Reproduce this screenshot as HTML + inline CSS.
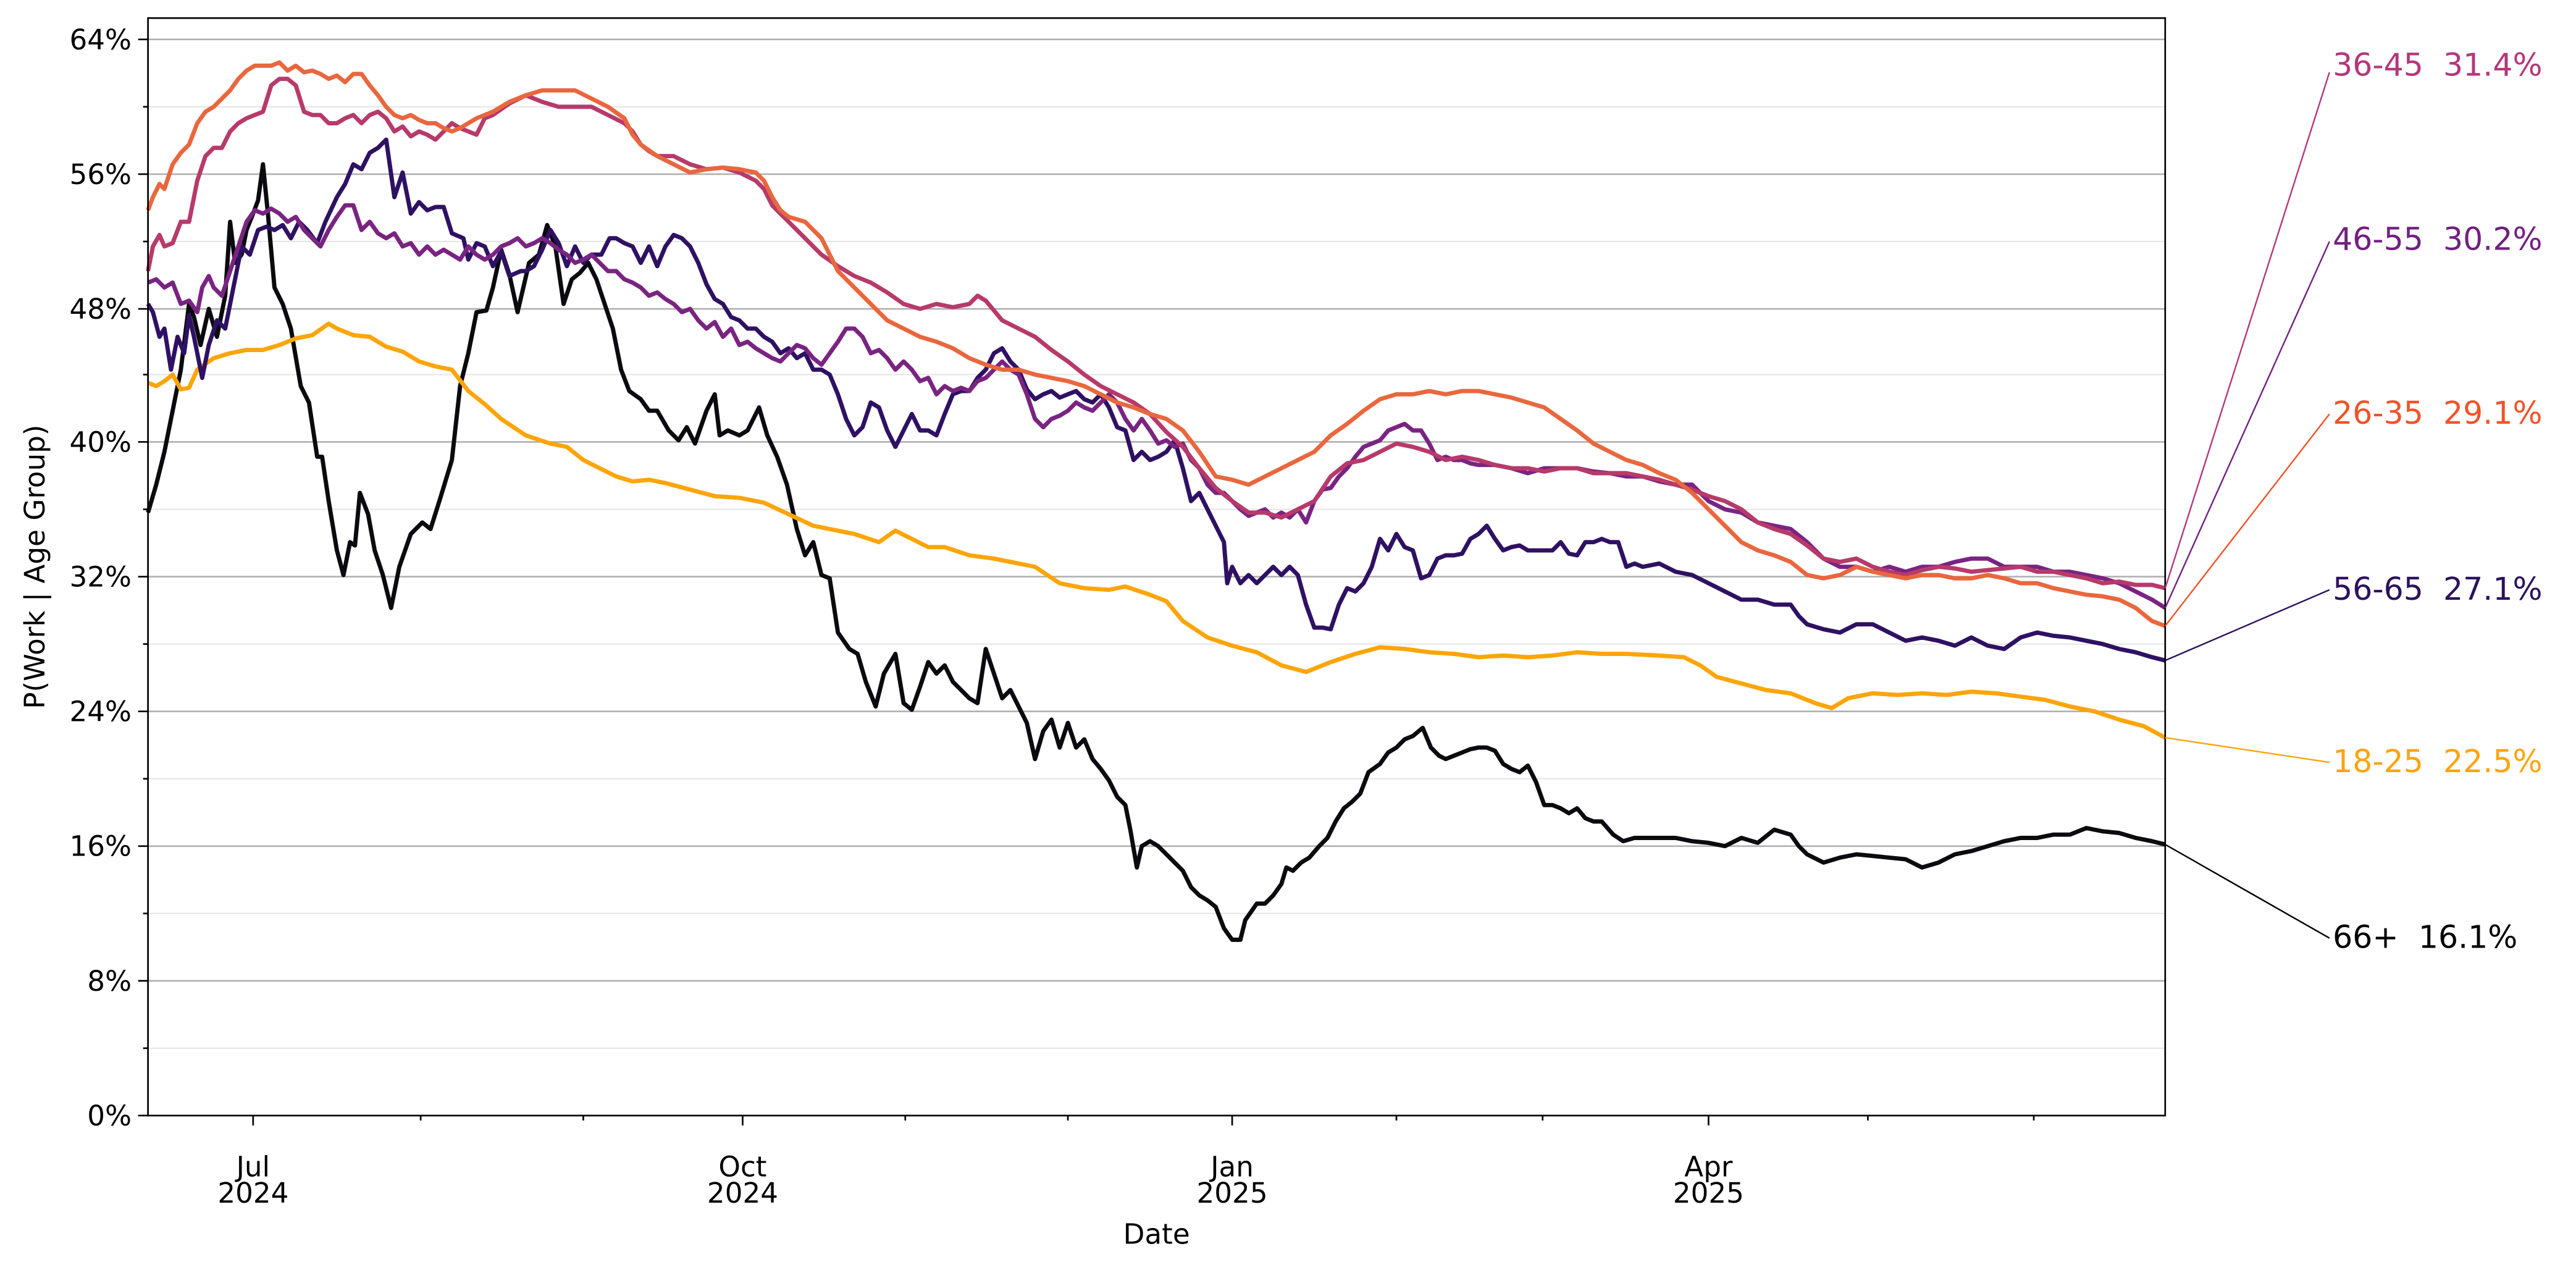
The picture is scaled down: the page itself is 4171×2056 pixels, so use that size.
<!DOCTYPE html>
<html><head><meta charset="utf-8"><style>html,body{margin:0;padding:0;background:#fff}svg{display:block}</style></head><body>
<svg width="4171" height="2056" viewBox="0 0 1568 773" xmlns="http://www.w3.org/2000/svg" font-family="DejaVu Sans, Liberation Sans, sans-serif">
<rect width="1568" height="773" fill="#fff"/>
<g stroke="#e6e6e6" stroke-width="0.8">
<line x1="90" x2="1318" y1="638" y2="638"/><line x1="90" x2="1318" y1="556" y2="556"/><line x1="90" x2="1318" y1="474" y2="474"/><line x1="90" x2="1318" y1="392" y2="392"/><line x1="90" x2="1318" y1="310" y2="310"/><line x1="90" x2="1318" y1="228" y2="228"/><line x1="90" x2="1318" y1="147" y2="147"/><line x1="90" x2="1318" y1="65" y2="65"/>
</g>
<g stroke="#b0b0b0" stroke-width="1">
<line x1="90" x2="1318" y1="597" y2="597"/><line x1="90" x2="1318" y1="515" y2="515"/><line x1="90" x2="1318" y1="433" y2="433"/><line x1="90" x2="1318" y1="351" y2="351"/><line x1="90" x2="1318" y1="269" y2="269"/><line x1="90" x2="1318" y1="188" y2="188"/><line x1="90" x2="1318" y1="106" y2="106"/><line x1="90" x2="1318" y1="24" y2="24"/>
</g>
<g fill="none" stroke-width="2.6" stroke-linejoin="round">
<polyline stroke="#0a0a0f" points="90,312 95,295 100,275 105,250 110,225 115,185 118,193 122,210 127,188 132,205 137,180 140,135 143,160 147,155 150,140 154,130 157,122 160,100 163,130 167,175 172,185 177,200 183,235 188,245 193,278 196,278 200,305 205,335 209,350 213,330 216,332 219,300 224,313 228,335 233,350 238,370 243,345 250,325 257,318 262,322 268,303 275,280 280,235 285,215 290,190 296,189 300,175 305,152 310,167 315,190 322,160 328,155 333,137 338,150 343,185 348,170 353,166 358,160 363,170 368,185 373,200 378,225 383,238 390,243 395,250 400,250 407,262 413,268 418,260 423,270 430,250 435,240 438,265 443,262 450,265 455,262 462,248 467,265 473,278 479,295 485,322 490,338 495,330 500,350 505,352 510,385 517,395 522,398 527,415 533,430 538,410 545,398 550,428 555,432 560,418 565,403 570,410 575,405 580,415 585,420 590,425 595,428 600,395 605,410 610,425 615,420 620,430 625,440 630,462 635,445 640,438 645,455 650,440 655,455 660,450 665,462 670,468 675,475 680,485 685,490 688,505 692,528 695,515 700,512 705,515 710,520 715,525 720,530 725,540 730,545 735,548 740,552 745,565 750,572 755,572 758,560 765,550 770,550 775,545 780,538 783,528 787,530 792,525 797,522 803,515 808,510 813,500 818,492 823,488 828,483 833,470 840,465 845,458 850,455 855,450 860,448 866,443 871,455 876,460 880,462 885,460 890,458 895,456 900,455 905,455 910,457 915,465 920,468 925,470 930,466 935,476 940,490 945,490 950,492 955,495 960,492 965,498 970,500 975,500 982,508 988,512 995,510 1000,510 1010,510 1020,510 1030,512 1040,513 1050,515 1060,510 1070,513 1080,505 1090,508 1095,515 1100,520 1110,525 1120,522 1130,520 1140,521 1150,522 1160,523 1170,528 1180,525 1190,520 1200,518 1210,515 1220,512 1230,510 1240,510 1250,508 1260,508 1270,504 1280,506 1290,507 1300,510 1310,512 1318,514"/>
<polyline stroke="#fca50a" points="90,233 95,235 100,232 105,228 110,237 115,236 120,225 130,218 140,215 150,213 160,213 170,210 180,206 190,204 200,197 205,200 215,204 225,205 235,211 245,214 255,220 265,223 275,225 285,238 295,246 305,255 320,265 335,270 345,272 355,280 365,285 375,290 385,293 395,292 405,294 420,298 435,302 450,303 465,306 480,313 495,320 510,323 520,325 535,330 545,323 555,328 565,333 575,333 590,338 605,340 620,343 630,345 645,355 660,358 675,359 685,357 700,362 710,366 720,378 735,388 750,393 765,397 780,405 795,409 810,403 825,398 840,394 855,395 870,397 885,398 900,400 915,399 930,400 945,399 960,397 975,398 990,398 1010,399 1025,400 1035,405 1045,412 1060,416 1075,420 1090,422 1105,428 1115,431 1125,425 1140,422 1155,423 1170,422 1185,423 1200,421 1215,422 1230,424 1245,426 1260,430 1275,433 1290,438 1305,442 1318,449"/>
<polyline stroke="#2f1163" points="90,185 93,190 97,205 100,200 104,225 108,205 112,215 115,192 118,205 123,230 127,210 132,195 137,200 142,175 147,150 152,155 157,140 162,138 167,140 172,137 177,145 182,135 187,140 193,148 198,135 205,120 210,112 215,100 220,103 225,93 230,90 235,85 240,120 245,105 250,130 255,123 260,128 265,126 270,126 275,142 282,145 285,158 290,148 295,150 300,162 305,153 310,168 317,165 320,165 325,162 330,152 335,140 340,148 345,162 350,150 355,160 360,155 366,155 371,145 375,145 380,148 385,150 390,160 395,150 400,162 405,150 410,143 415,145 420,150 425,160 430,173 435,182 440,185 445,193 450,195 455,200 460,200 465,205 470,208 475,215 480,212 485,218 490,215 495,225 500,225 505,228 510,240 515,255 520,265 525,260 530,245 535,248 540,262 545,272 550,262 555,252 560,262 565,262 570,265 575,252 580,240 585,238 590,238 595,230 600,225 605,215 610,212 615,220 620,225 625,237 630,243 635,240 640,238 645,242 650,240 655,238 660,243 665,245 670,240 675,248 680,260 685,262 690,280 695,275 700,280 705,278 710,275 715,268 720,285 725,305 730,300 735,310 740,320 745,330 747,355 750,345 755,355 760,350 765,355 770,350 775,345 780,350 785,345 790,350 795,368 800,382 805,382 810,383 815,368 820,358 825,360 830,355 835,345 840,328 845,335 850,325 855,333 860,335 865,352 870,350 875,340 880,338 885,338 890,337 895,328 900,325 905,320 910,328 915,335 920,333 925,332 930,335 935,335 940,335 945,335 950,330 955,337 960,338 965,330 970,330 975,328 980,330 985,330 990,345 995,343 1000,345 1010,343 1020,348 1030,350 1040,355 1050,360 1060,365 1070,365 1080,368 1090,368 1095,375 1100,380 1110,383 1120,385 1130,380 1140,380 1150,385 1160,390 1170,388 1180,390 1190,393 1200,388 1210,393 1220,395 1230,388 1240,385 1250,387 1260,388 1270,390 1280,392 1290,395 1300,397 1310,400 1318,402"/>
<polyline stroke="#7a2482" points="90,172 95,170 100,175 105,172 110,185 115,183 120,190 123,175 127,168 130,175 135,180 140,165 145,150 150,135 155,128 160,130 165,127 170,130 175,135 180,132 185,140 190,145 195,150 200,140 205,132 210,125 215,125 220,140 225,135 230,142 235,145 240,142 245,150 250,148 255,155 260,150 265,155 270,152 275,155 280,158 285,150 290,155 295,158 300,155 305,150 310,148 315,145 320,150 325,148 330,145 335,148 340,152 345,155 350,160 355,158 360,155 365,160 370,165 375,165 380,170 385,172 390,175 395,180 400,178 405,182 410,185 415,190 420,188 425,195 430,200 435,196 440,205 445,200 450,210 455,208 460,212 465,215 470,218 475,220 480,215 485,210 490,212 495,218 500,222 505,215 510,208 515,200 520,200 525,205 530,215 535,213 540,218 545,225 550,220 555,225 560,232 565,230 570,240 575,235 580,238 585,236 590,238 595,232 600,230 605,225 610,220 615,225 620,228 625,240 630,255 635,260 640,255 645,253 650,250 655,245 660,248 665,250 670,245 675,240 680,245 685,255 690,262 695,255 700,262 705,270 710,268 715,272 720,270 725,280 730,285 735,295 740,300 745,300 750,305 755,310 760,314 765,312 770,310 775,315 780,312 785,315 790,310 795,318 800,305 805,298 810,297 815,290 820,285 825,278 830,272 835,270 840,268 845,262 850,260 855,258 860,262 865,262 870,270 875,280 880,278 885,280 890,280 895,282 900,283 910,283 920,285 930,288 940,285 950,285 960,285 970,287 980,288 990,290 1000,290 1010,293 1020,295 1030,295 1040,305 1050,310 1060,312 1070,318 1080,320 1090,322 1100,330 1110,340 1120,345 1130,345 1140,348 1150,345 1160,348 1170,345 1180,345 1190,342 1200,340 1210,340 1220,345 1230,345 1240,345 1250,348 1260,348 1270,350 1280,352 1290,355 1300,360 1310,365 1318,370"/>
<polyline stroke="#b73a6a" points="90,165 93,150 97,143 100,150 105,148 110,135 115,135 120,110 125,95 130,90 135,90 140,80 145,75 150,72 155,70 160,68 165,52 170,48 175,48 180,52 185,68 190,70 195,70 200,75 205,75 210,72 215,70 220,75 225,70 230,68 235,72 240,80 245,77 250,83 255,80 260,82 265,85 270,80 275,75 280,78 285,80 290,82 295,72 300,70 310,63 320,58 330,62 340,65 350,65 360,65 370,70 380,75 385,80 390,88 395,92 400,95 410,95 420,100 430,103 440,102 450,105 460,110 465,115 470,125 475,130 480,135 490,145 500,155 510,162 520,168 530,172 540,178 550,185 560,188 570,185 580,187 590,185 595,180 600,183 610,195 620,200 630,205 640,213 650,220 660,228 670,235 680,240 690,245 700,252 710,263 720,272 730,285 740,297 750,305 760,312 770,312 780,315 790,310 800,305 810,290 820,282 830,280 840,275 850,270 860,272 870,275 880,280 890,278 900,280 910,283 920,285 930,285 940,287 950,285 960,285 970,288 980,288 990,288 1000,290 1010,292 1020,295 1030,298 1040,302 1050,305 1060,310 1070,318 1080,322 1090,325 1100,332 1110,340 1120,342 1130,340 1140,345 1150,348 1160,350 1170,347 1180,345 1190,346 1200,348 1210,347 1220,346 1230,345 1240,348 1250,348 1260,350 1270,352 1280,355 1290,354 1300,356 1310,356 1318,358"/>
<polyline stroke="#e9673e" points="90,128 93,120 97,112 100,115 105,100 110,93 115,88 120,75 125,68 130,65 135,60 140,55 145,48 150,43 155,40 160,40 165,40 170,38 175,43 180,40 185,44 190,43 195,45 200,48 205,46 210,50 215,45 220,45 225,52 230,58 235,65 240,70 245,72 250,70 255,73 260,75 265,75 270,78 275,80 280,78 285,75 290,72 295,70 300,68 305,65 310,62 320,58 330,55 340,55 350,55 360,60 370,65 380,72 385,82 390,88 400,95 410,100 420,105 430,103 440,102 450,103 460,105 465,110 470,120 475,128 480,132 490,135 500,145 505,155 510,165 520,175 530,185 540,195 550,200 560,205 570,208 580,212 590,218 600,222 610,225 620,225 630,228 640,230 650,232 660,235 670,240 680,245 690,248 700,252 710,255 720,262 730,275 740,290 750,292 760,295 770,290 780,285 790,280 800,275 810,265 820,258 830,250 840,243 850,240 860,240 870,238 880,240 890,238 900,238 910,240 920,242 930,245 940,248 950,255 960,262 970,270 980,275 990,280 1000,283 1010,288 1020,292 1030,300 1040,310 1050,320 1060,330 1070,335 1080,338 1090,342 1100,350 1110,352 1120,350 1130,345 1140,348 1150,350 1160,352 1170,350 1180,350 1190,352 1200,352 1210,350 1220,352 1230,355 1240,355 1250,358 1260,360 1270,362 1280,363 1290,365 1300,370 1310,378 1318,381"/>
</g>
<rect x="90" y="11" width="1228" height="668" fill="none" stroke="#000" stroke-width="1"/>
<g stroke-width="0.9">
<line x1="1318" y1="358" x2="1418" y2="44" stroke="#b5367a"/>
<line x1="1318" y1="370" x2="1418" y2="147" stroke="#721f81"/>
<line x1="1318" y1="381" x2="1418" y2="252" stroke="#f0532a"/>
<line x1="1318" y1="402" x2="1418" y2="359" stroke="#2c115f"/>
<line x1="1318" y1="449" x2="1418" y2="464" stroke="#fca40e"/>
<line x1="1318" y1="514" x2="1418" y2="571" stroke="#000"/>
</g>
<g font-size="19">
<text x="1420" y="46" fill="#b5367a">36-45&#160;&#160;31.4%</text>
<text x="1420" y="152" fill="#721f81">46-55&#160;&#160;30.2%</text>
<text x="1420" y="258" fill="#f0532a">26-35&#160;&#160;29.1%</text>
<text x="1420" y="365" fill="#2c115f">56-65&#160;&#160;27.1%</text>
<text x="1420" y="470" fill="#fca40e">18-25&#160;&#160;22.5%</text>
<text x="1420" y="577" fill="#000">66+&#160;&#160;16.1%</text>
</g>
<g stroke="#000" stroke-width="1">
<line x1="84" x2="90" y1="679" y2="679"/><line x1="84" x2="90" y1="597" y2="597"/><line x1="84" x2="90" y1="515" y2="515"/><line x1="84" x2="90" y1="433" y2="433"/><line x1="84" x2="90" y1="351" y2="351"/><line x1="84" x2="90" y1="269" y2="269"/><line x1="84" x2="90" y1="188" y2="188"/><line x1="84" x2="90" y1="106" y2="106"/><line x1="84" x2="90" y1="24" y2="24"/>
<line x1="87" x2="90" y1="638" y2="638"/><line x1="87" x2="90" y1="556" y2="556"/><line x1="87" x2="90" y1="474" y2="474"/><line x1="87" x2="90" y1="392" y2="392"/><line x1="87" x2="90" y1="310" y2="310"/><line x1="87" x2="90" y1="228" y2="228"/><line x1="87" x2="90" y1="147" y2="147"/><line x1="87" x2="90" y1="65" y2="65"/>
<line x1="154" x2="154" y1="679" y2="685"/><line x1="452" x2="452" y1="679" y2="685"/><line x1="750" x2="750" y1="679" y2="685"/><line x1="1040" x2="1040" y1="679" y2="685"/>
<line x1="256" x2="256" y1="679" y2="682"/><line x1="355" x2="355" y1="679" y2="682"/><line x1="551" x2="551" y1="679" y2="682"/><line x1="650" x2="650" y1="679" y2="682"/><line x1="850" x2="850" y1="679" y2="682"/><line x1="939" x2="939" y1="679" y2="682"/><line x1="1137" x2="1137" y1="679" y2="682"/><line x1="1238" x2="1238" y1="679" y2="682"/>
</g>
<g font-size="17" text-anchor="end" fill="#000">
<text x="80" y="685">0%</text><text x="80" y="603">8%</text><text x="80" y="521">16%</text><text x="80" y="439">24%</text><text x="80" y="357">32%</text><text x="80" y="275">40%</text><text x="80" y="194">48%</text><text x="80" y="112">56%</text><text x="80" y="30">64%</text>
</g>
<g font-size="17" text-anchor="middle" fill="#000">
<text x="154" y="716">Jul</text><text x="154" y="732">2024</text>
<text x="452" y="716">Oct</text><text x="452" y="732">2024</text>
<text x="750" y="716">Jan</text><text x="750" y="732">2025</text>
<text x="1040" y="716">Apr</text><text x="1040" y="732">2025</text>
<text x="704" y="757">Date</text>
<text transform="translate(27,345) rotate(-90)">P(Work | Age Group)</text>
</g>
</svg>
</body></html>
